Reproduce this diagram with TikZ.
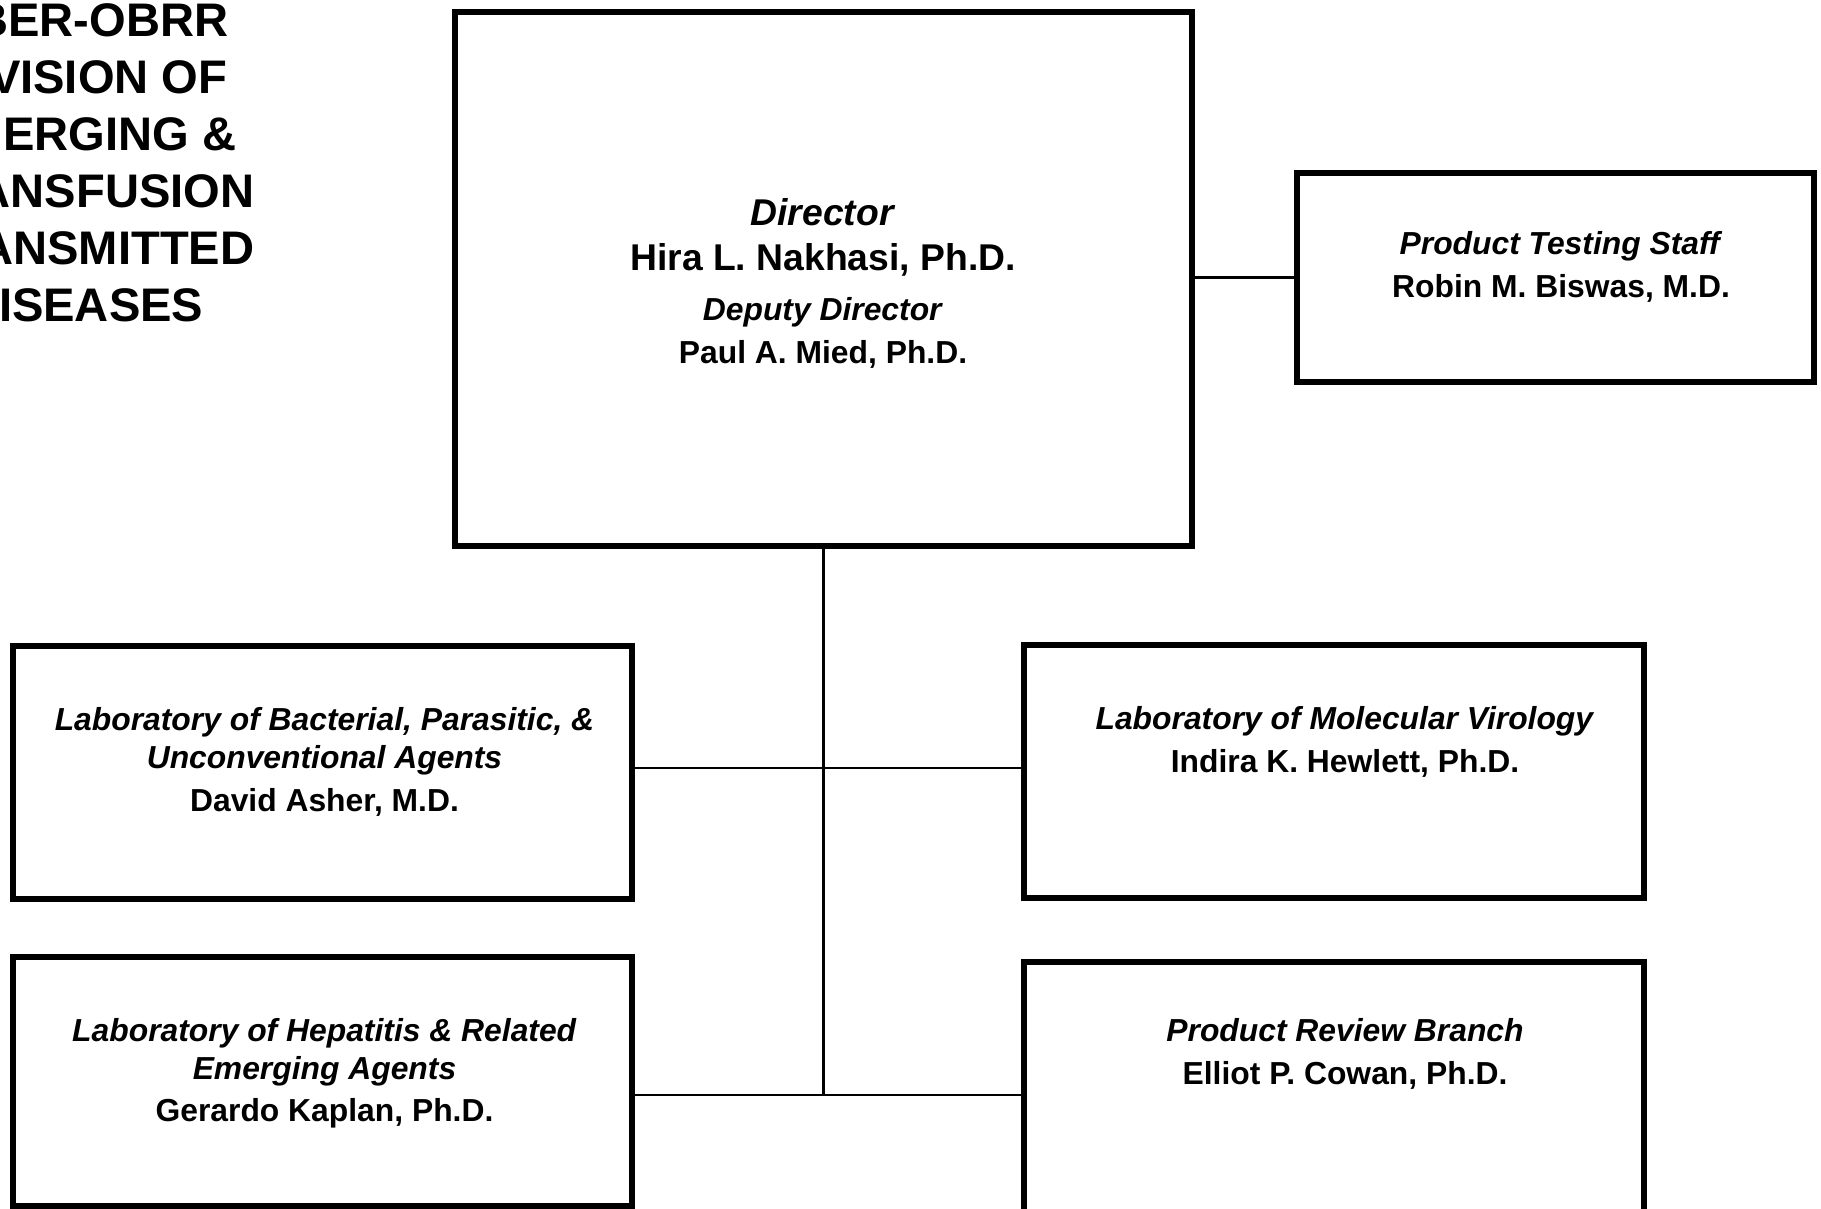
\documentclass[tikz,border=0pt]{standalone}
\usepackage{fontspec}
\setmainfont{Liberation Sans}
\usetikzlibrary{positioning}

\begin{document}
\begin{tikzpicture}[x=0.01cm, y=-0.01cm,
  unit/.style={draw, line width=1.6pt, inner sep=0pt, outer sep=0pt},
  link/.style={line width=0.75pt},
  info/.style={align=center, inner sep=0pt, font=\fontsize{9.05}{12.2}\selectfont\bfseries},
  head/.style={anchor=east, inner sep=0pt, font=\fontsize{13.4}{16}\selectfont\bfseries}]
\useasboundingbox (0,0) rectangle (1821,1209);

% title, cut off at the left edge
\node[head] (t1) at (229,20) {BER-OBRR};
\node[head] (t2) at (228,77) {VISION OF};
\node[head] (t3) at (237,134) {ERGING \&};
\node[head] (t4) at (255,191) {ANSFUSION};
\node[head] (t5) at (255,248) {ANSMITTED};
\node[head] (t6) at (204,305) {ISEASES};

% boxes
\node[unit, minimum width=7.37cm, minimum height=5.34cm] (dir) at (823.5,279) {};
\node[unit, minimum width=5.17cm, minimum height=2.09cm] (pts) at (1555.5,277.5) {};
\node[unit, minimum width=6.19cm, minimum height=2.53cm] (lbp) at (322.5,772.5) {};
\node[unit, minimum width=6.20cm, minimum height=2.53cm] (lmv) at (1334,771.5) {};
\node[unit, minimum width=6.19cm, minimum height=2.49cm] (lhr) at (322.5,1081.5) {};
\node[unit, minimum width=6.20cm, minimum height=2.78cm] (prb) at (1334,1101) {};

% texts
\node[info, font=\fontsize{10.6}{12.8}\selectfont\bfseries] (dirtxt) at (823,283.5)
  {\textit{Director}\\Hira L. Nakhasi, Ph.D.\\[1.4pt]
   {\fontsize{9.05}{11}\selectfont\textit{Deputy Director}}\\[-0.6pt]
   {\fontsize{9.05}{11}\selectfont Paul A. Mied, Ph.D.}};
\node[info] (ptstxt) at (1561,267) {\textit{Product Testing Staff}\\Robin M. Biswas, M.D.};
\node[info, font=\fontsize{9.05}{10.8}\selectfont\bfseries] (lbptxt) at (324.5,761.5)
  {\textit{Laboratory of Bacterial, Parasitic, \&}\\\textit{Unconventional Agents}\\[1.4pt]David Asher, M.D.};
\node[info] (lmvtxt) at (1345,742) {\textit{Laboratory of Molecular Virology}\\Indira K. Hewlett, Ph.D.};
\node[info, font=\fontsize{9.05}{10.8}\selectfont\bfseries] (lhrtxt) at (324.5,1073.5)
  {\textit{Laboratory of Hepatitis \& Related}\\\textit{Emerging Agents}\\[1.2pt]Gerardo Kaplan, Ph.D.};
\node[info] (prbtxt) at (1345,1054) {\textit{Product Review Branch}\\Elliot P. Cowan, Ph.D.};

% connectors
\coordinate (j1) at (824.5,768);
\coordinate (j2) at (824.5,1095);
\draw[link] (dir.east |- pts.west) -- (pts.west);
\draw[link] (dir.south) -- (dir.south |- j2);
\draw[link] (lbp.east |- j1) -- (lmv.west |- j1);
\draw[link] (lhr.east |- j2) -- (prb.west |- j2);
\end{tikzpicture}
\end{document}
